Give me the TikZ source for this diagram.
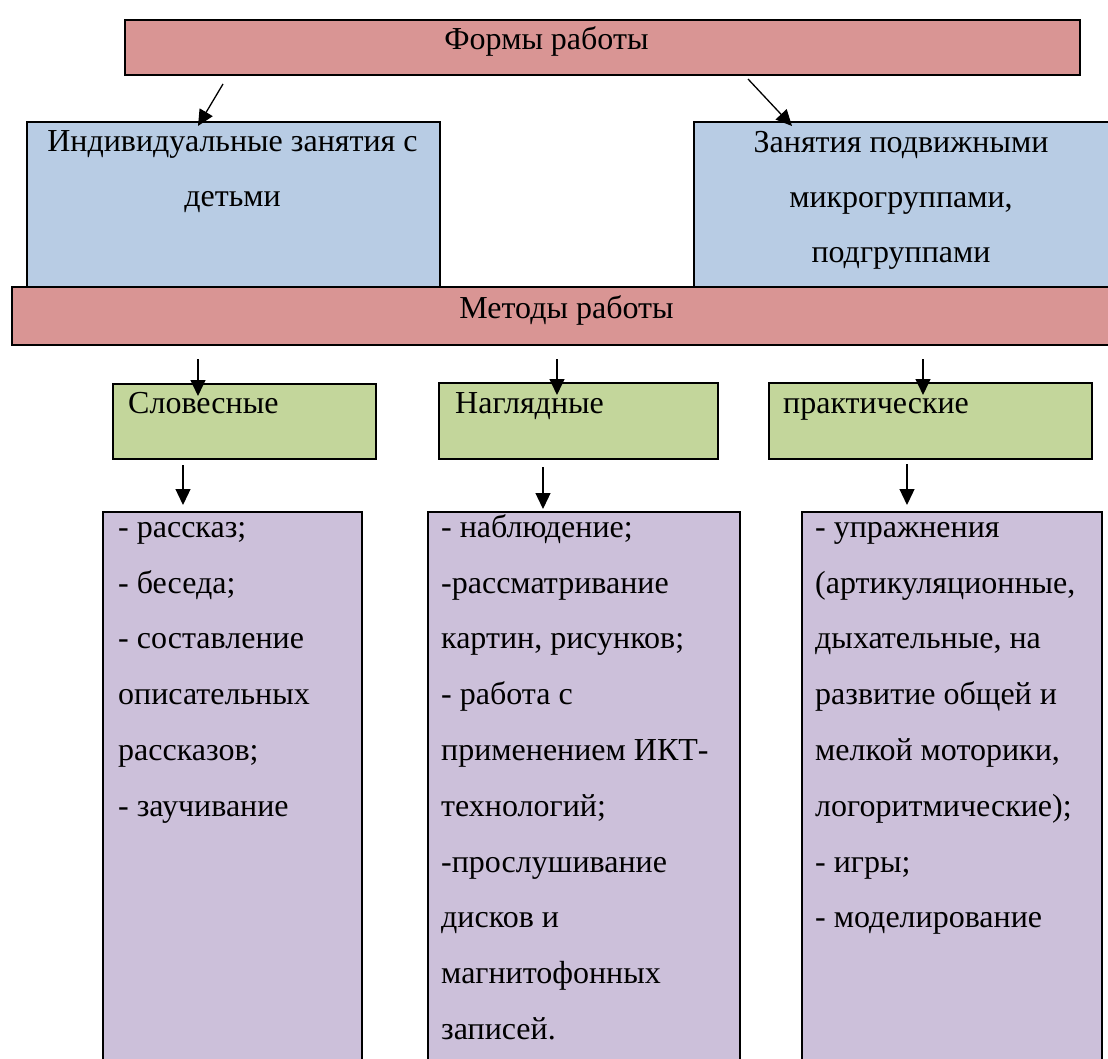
\documentclass[tikz,border=0pt]{standalone}
\usepackage{fontspec}
\setmainfont{Liberation Serif}
\usetikzlibrary{arrows.meta,calc}
\definecolor{pinkc}{HTML}{D99594}
\definecolor{bluec}{HTML}{B8CCE4}
\definecolor{greenc}{HTML}{C3D69B}
\definecolor{purplec}{HTML}{CCC0DA}
\begin{document}
\begin{tikzpicture}[x=1pt,y=-1pt,
  box/.style={draw=black,line width=2pt,inner sep=0pt,anchor=north west,outer sep=0pt},
  pinkbox/.style={box,fill=pinkc},
  bluebox/.style={box,fill=bluec},
  greenbox/.style={box,fill=greenc},
  purplebox/.style={box,fill=purplec},
  bigtxt/.style={inner sep=0pt,font=\fontsize{32}{55}\selectfont},
  listtxt/.style={inner sep=0pt,font=\fontsize{32}{55.8}\selectfont,align=left,anchor=north west},
  ctrtxt/.style={inner sep=0pt,font=\fontsize{32}{55}\selectfont,align=center,anchor=north},
  arr/.style={line width=1.3pt,-{Triangle[length=16pt,width=15pt]}}]
\clip (0,0) rectangle (1108,1059);
% boxes
\node[pinkbox,minimum width=955pt,minimum height=55pt] (forms) at (125,20) {};
\node[bluebox,minimum width=413pt,minimum height=170pt] (indiv) at (27,122) {};
\node[bluebox,minimum width=420pt,minimum height=170pt] (micro) at (694,122) {};
\node[pinkbox,minimum width=1102pt,minimum height=58pt] (methods) at (12,287) {};
\node[greenbox,minimum width=263pt,minimum height=75pt] (g1) at (113,384) {};
\node[greenbox,minimum width=279pt,minimum height=76pt] (g2) at (439,383) {};
\node[greenbox,minimum width=323pt,minimum height=76pt] (g3) at (769,383) {};
\node[purplebox,minimum width=259pt,minimum height=560pt] (p1) at (103,512) {};
\node[purplebox,minimum width=312pt,minimum height=560pt] (p2) at (428,512) {};
\node[purplebox,minimum width=300pt,minimum height=560pt] (p3) at (802,512) {};
% texts
\node[bigtxt,anchor=base] (tforms) at (546.5,50) {Формы работы};
\node[bigtxt,anchor=base] (tmethods) at (566.5,319) {Методы работы};
\node[ctrtxt] (tindiv) at (232.5,127) {\rule{0pt}{24pt}Индивидуальные занятия с\\детьми};
\node[ctrtxt] (tmicro) at (901,128) {\rule{0pt}{24pt}Занятия подвижными\\микрогруппами,\\подгруппами};
\node[bigtxt,anchor=base west] (tg1) at (128,413) {Словесные};
\node[bigtxt,anchor=base west] (tg2) at (455,413) {Наглядные};
\node[bigtxt,anchor=base west] (tg3) at (783,413) {практические};
\node[listtxt] (tp1) at (118,513) {\rule{0pt}{24pt}- рассказ;\\- беседа;\\- составление\\описательных\\рассказов;\\- заучивание};
\node[listtxt] (tp2) at (441,513) {\rule{0pt}{24pt}- наблюдение;\\-рассматривание\\картин, рисунков;\\- работа с\\применением ИКТ-\\технологий;\\-прослушивание\\дисков и\\магнитофонных\\записей.};
\node[listtxt] (tp3) at (815,513) {\rule{0pt}{24pt}- упражнения\\(артикуляционные,\\дыхательные, на\\развитие общей и\\мелкой моторики,\\логоритмические);\\- игры;\\- моделирование};
% arrow start points
\coordinate (s1) at (223,84);
\coordinate (s2) at (748,79);
\coordinate (s3) at (198,359);
\coordinate (s4) at (557,359);
\coordinate (s5) at (923,359);
\coordinate (s6) at (183,465);
\coordinate (s7) at (543,467);
\coordinate (s8) at (907,464);
% arrows
\draw[arr] (s1) -- ($(indiv.north west)+(171,4)$);
\draw[arr] (s2) -- ($(micro.north west)+(98,4)$);
\draw[arr] (s3) -- (s3 |- {$(g1.north)+(0,12)$});
\draw[arr] (s4) -- (s4 |- {$(g2.north)+(0,12)$});
\draw[arr] (s5) -- (s5 |- {$(g3.north)+(0,12)$});
\draw[arr] (s6) -- (s6 |- {$(p1.north)+(0,-7)$});
\draw[arr] (s7) -- (s7 |- {$(p2.north)+(0,-3)$});
\draw[arr] (s8) -- (s8 |- {$(p3.north)+(0,-7)$});
\end{tikzpicture}
\end{document}
